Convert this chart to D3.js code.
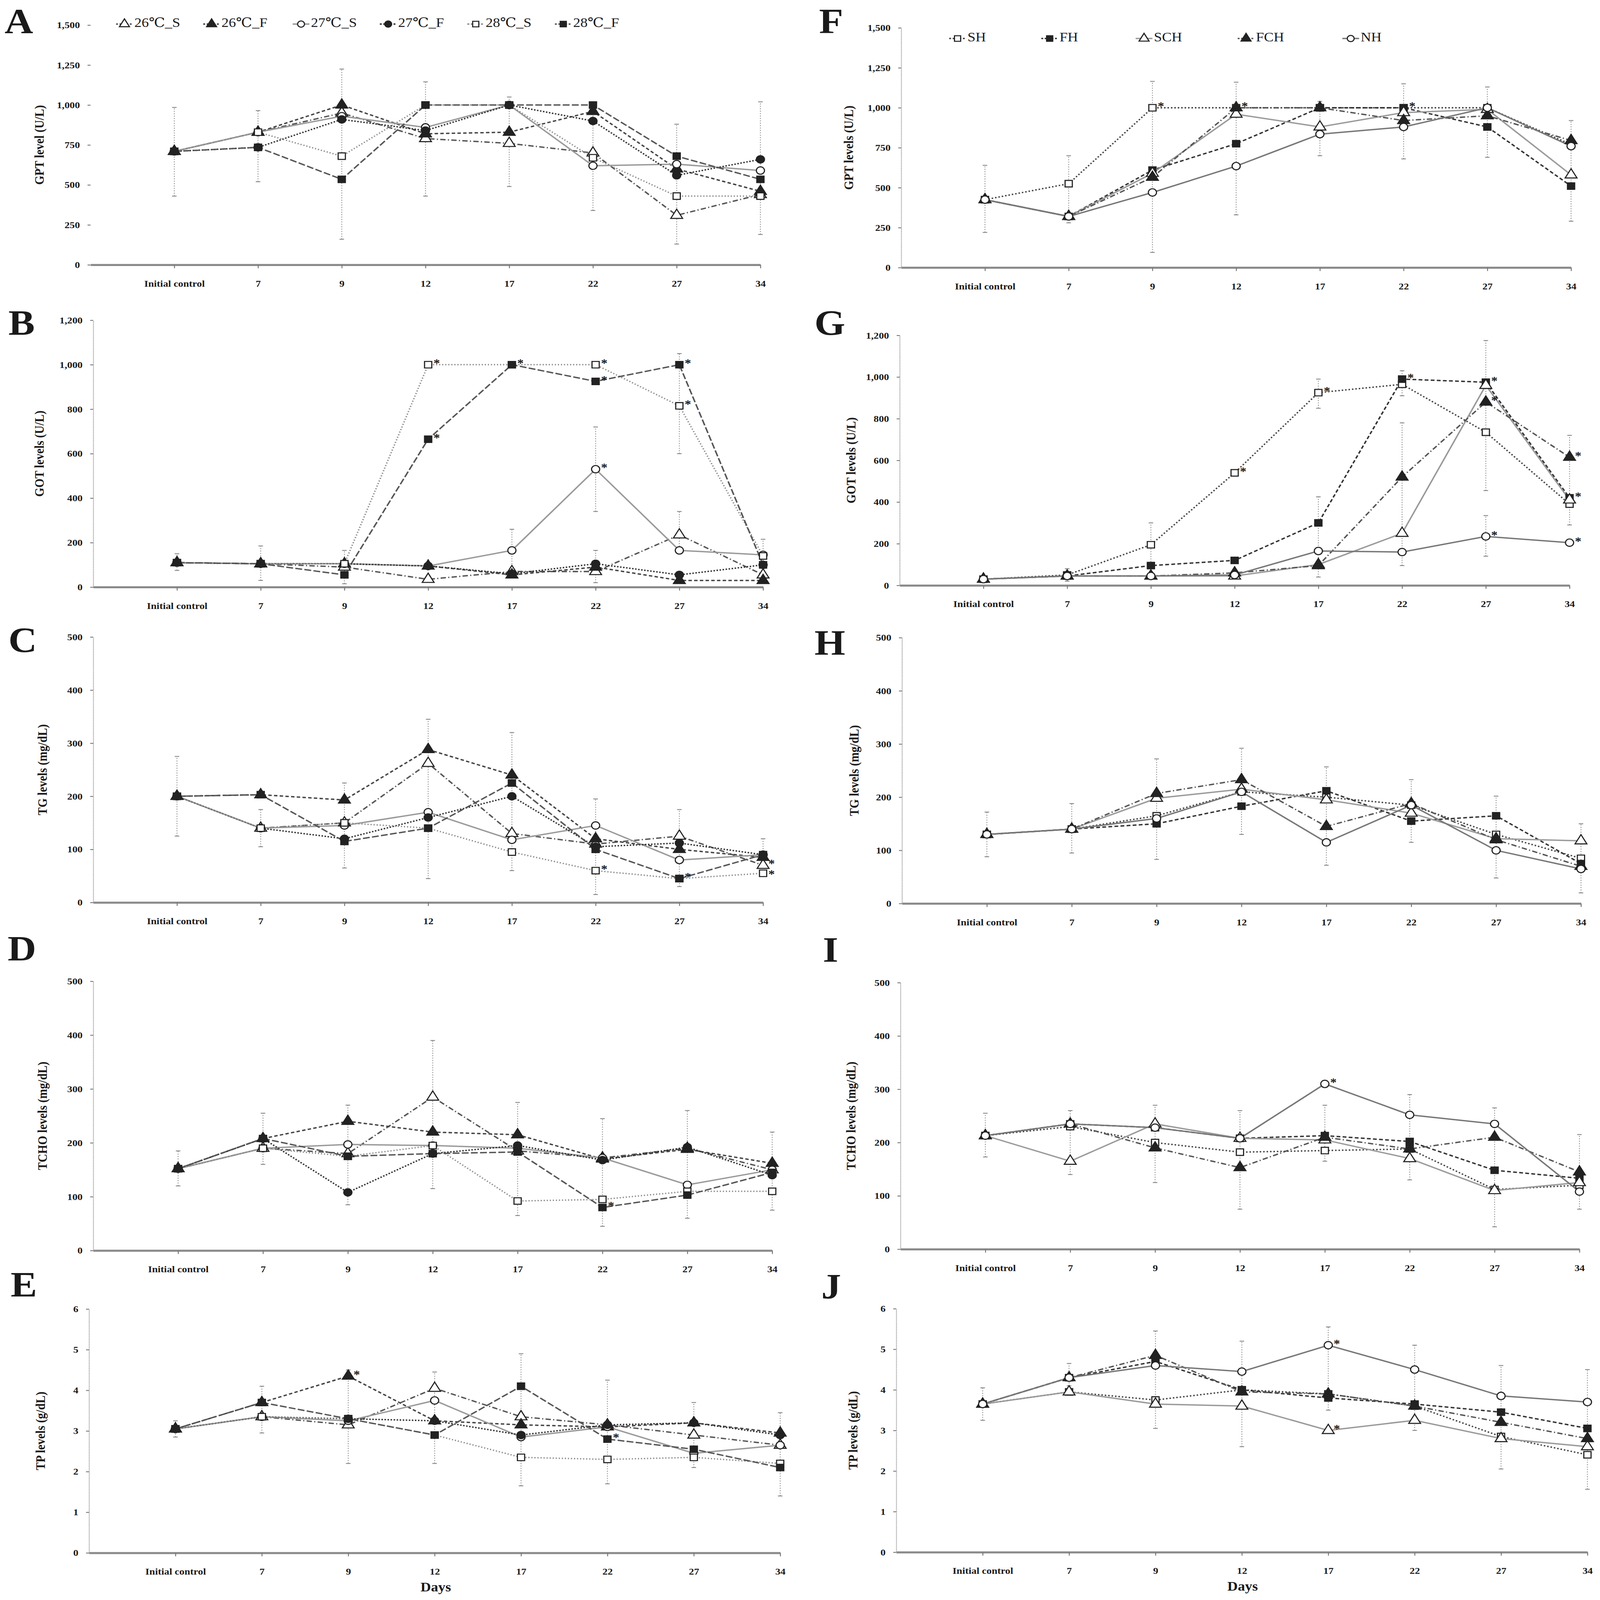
<!DOCTYPE html>
<html lang="en">
<head>
<meta charset="UTF-8">
<title>Serum biochemistry by day</title>
<script src="https://d3js.org/d3.v7.min.js"></script>
<style>
  html, body { margin: 0; padding: 0; background: #fff; overflow: hidden; }
  svg { display: block; width: 100vw; height: 100vh; }
  text { font-family: "Liberation Serif", "DejaVu Serif", serif; fill: #1a1a1a; }
  .tick text { font-size: 27px; font-weight: bold; }
  .ytitle { font-size: 34px; font-weight: bold; }
  .letter { font-size: 104px; font-weight: bold; }
  .legend text { font-size: 38px; }
  .star { font-size: 34px; font-weight: bold; }
  .days { font-size: 38px; font-weight: bold; }
</style>
</head>
<body>
<div id="chart"></div>
<script>
// ---- categories and series names ----
const days = ["Initial control", "7", "9", "12", "17", "22", "27", "34"];
const tempNames = ["26℃_S", "26℃_F", "27℃_S", "27℃_F", "28℃_S", "28℃_F"];
const dietNames = ["SH", "FH", "SCH", "FCH", "NH"];

// ---- left column (temperature groups), one row per series ----
const gptTemp = [
  [710, 830, 950, 790, 760, 700, 310, 440],
  [710, 830, 1000, 820, 830, 960, 600, 460],
  [710, 830, 930, 860, 1000, 620, 630, 590],
  [710, 735, 910, 840, 1000, 900, 560, 660],
  [710, 830, 680, 1000, 1000, 670, 430, 430],
  [710, 735, 535, 1000, 1000, 1000, 680, 535]
];
const gotTemp = [
  [110, 105, 90, 35, 70, 70, 235, 55],
  [110, 105, 105, 95, 55, 90, 30, 30],
  [110, 105, 105, 95, 165, 530, 165, 145],
  [110, 105, 105, 95, 60, 105, 55, 100],
  [110, 105, 105, 1000, 1000, 1000, 815, 140],
  [110, 105, 55, 665, 1000, 925, 1000, 100]
];
const tgTemp = [
  [200, 140, 150, 262, 130, 110, 125, 70],
  [200, 203, 193, 288, 240, 120, 100, 85],
  [200, 140, 145, 170, 118, 145, 80, 90],
  [200, 140, 120, 160, 200, 105, 112, 90],
  [200, 140, 150, 140, 95, 60, 45, 55],
  [200, 203, 115, 140, 225, 100, 45, 90]
];
const tchoTemp = [
  [152, 190, 180, 285, 185, 172, 190, 150],
  [152, 208, 240, 220, 215, 170, 188, 162],
  [152, 190, 197, 195, 190, 172, 122, 150],
  [152, 208, 108, 180, 195, 168, 192, 140],
  [152, 190, 175, 195, 92, 95, 110, 110],
  [152, 208, 175, 180, 183, 80, 103, 145]
];
const tpTemp = [
  [3.05, 3.35, 3.15, 4.05, 3.35, 3.15, 2.9, 2.65],
  [3.05, 3.7, 4.35, 3.25, 3.15, 3.1, 3.2, 2.95],
  [3.05, 3.35, 3.25, 3.75, 2.85, 3.1, 2.45, 2.65],
  [3.05, 3.35, 3.3, 3.25, 2.9, 3.15, 3.2, 2.9],
  [3.05, 3.35, 3.3, 2.9, 2.35, 2.3, 2.35, 2.2],
  [3.05, 3.7, 3.3, 2.9, 4.1, 2.8, 2.55, 2.1]
];

// ---- right column (diet groups) ----
const gptDiet = [
  [425, 525, 1000, 1000, 1000, 1000, 1000, 770],
  [425, 320, 610, 775, 1000, 1000, 880, 510],
  [425, 320, 590, 960, 880, 970, 990, 580],
  [425, 320, 565, 1000, 1000, 920, 950, 795],
  [425, 320, 470, 635, 835, 880, 1000, 760]
];
const gotDiet = [
  [30, 50, 195, 540, 925, 965, 735, 390],
  [30, 45, 95, 120, 300, 990, 975, 420],
  [30, 45, 45, 45, 100, 250, 960, 410],
  [30, 45, 45, 60, 95, 520, 880, 615],
  [30, 45, 45, 50, 165, 160, 235, 205]
];
const tgDiet = [
  [130, 140, 165, 210, 200, 185, 130, 85],
  [130, 140, 150, 183, 212, 155, 165, 75],
  [130, 140, 198, 215, 195, 170, 122, 118],
  [130, 140, 207, 233, 145, 188, 120, 70],
  [130, 140, 160, 210, 115, 185, 100, 65]
];
const tchoDiet = [
  [213, 230, 200, 182, 185, 188, 112, 120],
  [213, 235, 228, 208, 213, 202, 148, 133],
  [213, 165, 235, 208, 205, 170, 110, 125],
  [213, 235, 190, 153, 210, 188, 210, 145],
  [213, 235, 228, 208, 310, 252, 235, 108]
];
const tpDiet = [
  [3.65, 3.95, 3.75, 4.0, 3.9, 3.6, 2.85, 2.4],
  [3.65, 4.3, 4.7, 4.0, 3.8, 3.65, 3.45, 3.05],
  [3.65, 3.95, 3.65, 3.6, 3.0, 3.25, 2.8, 2.6],
  [3.65, 4.3, 4.85, 3.95, 3.9, 3.6, 3.2, 2.8],
  [3.65, 4.3, 4.6, 4.45, 5.1, 4.5, 3.85, 3.7]
];

// ---- error bars: [day index, low, high] ----
const gptTempErr = [[0, 430, 985], [1, 520, 965], [2, 160, 1225], [3, 430, 1145], [4, 490, 1050], [5, 340, 1000], [6, 130, 880], [7, 190, 1020]];
const gotTempErr = [[0, 75, 150], [1, 30, 185], [2, 15, 165], [4, 60, 260], [5, 340, 720], [5, 20, 165], [6, 600, 1050], [6, 150, 340], [7, 20, 215]];
const tgTempErr = [[0, 125, 275], [1, 105, 175], [2, 65, 225], [3, 45, 345], [4, 60, 320], [5, 15, 195], [6, 30, 175], [7, 55, 120]];
const tchoTempErr = [[0, 120, 185], [1, 160, 255], [2, 85, 270], [3, 115, 390], [4, 65, 275], [5, 45, 245], [6, 60, 260], [7, 75, 220]];
const tpTempErr = [[0, 2.85, 3.25], [1, 2.95, 4.1], [2, 2.2, 4.5], [3, 2.2, 4.45], [4, 1.65, 4.9], [5, 1.7, 4.25], [6, 2.1, 3.7], [7, 1.4, 3.45]];
const gptDietErr = [[0, 220, 640], [1, 280, 700], [2, 95, 1165], [3, 330, 1160], [4, 700, 1040], [5, 680, 1150], [6, 690, 1130], [7, 290, 920]];
const gotDietErr = [[1, 20, 80], [2, 90, 300], [4, 850, 990], [4, 40, 425], [5, 95, 780], [5, 910, 1030], [6, 455, 1175], [6, 140, 335], [7, 290, 720]];
const tgDietErr = [[0, 88, 172], [1, 95, 188], [2, 83, 272], [3, 130, 292], [4, 72, 257], [5, 115, 233], [6, 48, 202], [7, 20, 150]];
const tchoDietErr = [[0, 173, 255], [1, 140, 260], [2, 125, 270], [3, 75, 260], [4, 165, 270], [5, 130, 290], [6, 42, 265], [7, 75, 215]];
const tpDietErr = [[0, 3.25, 4.05], [1, 4.1, 4.65], [2, 3.05, 5.45], [3, 2.6, 5.2], [4, 3.5, 5.55], [5, 3.0, 5.1], [6, 2.05, 4.6], [7, 1.55, 4.5]];

// ---- significance stars: [series index, day index] ----
const gotTempStar = [[4, 3], [5, 3], [5, 4], [4, 5], [5, 5], [2, 5], [5, 6], [4, 6]];
const tgTempStar = [[4, 5], [4, 6], [4, 7], [0, 7]];
const tchoTempStar = [[5, 5]];
const tpTempStar = [[1, 2], [5, 5]];
const gptDietStar = [[0, 2], [3, 3], [0, 5]];
const gotDietStar = [[0, 3], [0, 4], [1, 5], [1, 6], [3, 6], [3, 7], [1, 7], [4, 6], [4, 7]];
const tchoDietStar = [[4, 4]];
const tpDietStar = [[4, 4], [2, 4]];

// marker / line styles
const tempStyles = [
  { shape: d3.symbolTriangle, fill: "#fff", dash: "14,6,3,6", color: "#555" },
  { shape: d3.symbolTriangle, fill: "#222", dash: "9,6", color: "#444" },
  { shape: d3.symbolCircle, fill: "#fff", dash: null, color: "#9a9a9a" },
  { shape: d3.symbolCircle, fill: "#222", dash: "4,4", color: "#333" },
  { shape: d3.symbolSquare, fill: "#fff", dash: "3,5", color: "#8a8a8a" },
  { shape: d3.symbolSquare, fill: "#222", dash: "18,6", color: "#555" }
];
const dietStyles = [
  { shape: d3.symbolSquare, fill: "#fff", dash: "4,5", color: "#444" },
  { shape: d3.symbolSquare, fill: "#222", dash: "10,6", color: "#333" },
  { shape: d3.symbolTriangle, fill: "#fff", dash: null, color: "#9a9a9a" },
  { shape: d3.symbolTriangle, fill: "#222", dash: "14,6,3,6", color: "#555" },
  { shape: d3.symbolCircle, fill: "#fff", dash: null, color: "#777" }
];

const commaFmt = d3.format(",");
const panels = [
  { letter: "A", lx: 12, ly: 97, data: gptTemp, err: gptTempErr, stars: [], styles: tempStyles,
    x0: 238, step: 220, yTop: 73, yBot: 770, max: 1500, tick: 250, title: "GPT level (U/L)", tx: 107, noYLine: true },
  { letter: "B", lx: 22, ly: 973, data: gotTemp, err: gotTempErr, stars: gotTempStar, styles: tempStyles,
    x0: 245, step: 220, yTop: 931, yBot: 1707, max: 1200, tick: 200, title: "GOT levels (U/L)", tx: 107 },
  { letter: "C", lx: 22, ly: 1895, data: tgTemp, err: tgTempErr, stars: tgTempStar, styles: tempStyles,
    x0: 245, step: 220, yTop: 1852, yBot: 2624, max: 500, tick: 100, title: "TG levels (mg/dL)", tx: 115 },
  { letter: "D", lx: 20, ly: 2793, data: tchoTemp, err: tchoTempErr, stars: tchoTempStar, styles: tempStyles,
    x0: 245, step: 223, yTop: 2853, yBot: 3636, max: 500, tick: 100, title: "TCHO levels (mg/dL)", tx: 115 },
  { letter: "E", lx: 28, ly: 3769, data: tpTemp, err: tpTempErr, stars: tpTempStar, styles: tempStyles,
    x0: 234, step: 227, yTop: 3806, yBot: 4515, max: 6, tick: 1, title: "TP levels (g/dL)", tx: 110, daysX: 1145 },
  { letter: "F", lx: 2152, ly: 97, data: gptDiet, err: gptDietErr, stars: gptDietStar, styles: dietStyles,
    x0: 2368, step: 220, yTop: 81, yBot: 778, max: 1500, tick: 250, title: "GPT levels (U/L)", tx: 2234 },
  { letter: "G", lx: 2140, ly: 973, data: gotDiet, err: gotDietErr, stars: gotDietStar, styles: dietStyles,
    x0: 2364, step: 220, yTop: 975, yBot: 1702, max: 1200, tick: 200, title: "GOT levels (U/L)", tx: 2240 },
  { letter: "H", lx: 2140, ly: 1904, data: tgDiet, err: tgDietErr, stars: [], styles: dietStyles,
    x0: 2370, step: 223, yTop: 1854, yBot: 2627, max: 500, tick: 100, title: "TG levels (mg/dL)", tx: 2248 },
  { letter: "I", lx: 2162, ly: 2796, data: tchoDiet, err: tchoDietErr, stars: tchoDietStar, styles: dietStyles,
    x0: 2366, step: 223, yTop: 2857, yBot: 3632, max: 500, tick: 100, title: "TCHO levels (mg/dL)", tx: 2240 },
  { letter: "J", lx: 2158, ly: 3775, data: tpDiet, err: tpDietErr, stars: tpDietStar, styles: dietStyles,
    x0: 2355, step: 227, yTop: 3805, yBot: 4513, max: 6, tick: 1, title: "TP levels (g/dL)", tx: 2245, daysX: 3265 }
];

const W = 4204, H = 4652;
// stretch the drawing to the window so the full figure is always in view
const svg = d3.select("#chart").append("svg")
  .attr("viewBox", `0 0 ${W} ${H}`)
  .attr("preserveAspectRatio", "none");

function marker(sel, style, size) {
  sel.append("path")
    .attr("d", d3.symbol().type(style.shape).size(size))
    .attr("fill", style.fill)
    .attr("stroke", "#222")
    .attr("stroke-width", 3);
}

function drawPanel(p) {
  const g = svg.append("g");
  const x = d3.scaleLinear().domain([0, 8]).range([p.x0, p.x0 + 8 * p.step]);
  const y = d3.scaleLinear().domain([0, p.max]).range([p.yBot, p.yTop]);

  g.append("text").attr("class", "letter").attr("x", p.lx).attr("y", p.ly).text(p.letter);

  // y axis
  const ya = g.append("g").attr("transform", `translate(${p.x0},0)`)
    .call(d3.axisLeft(y).tickValues(d3.range(0, p.max + 1e-9, p.tick))
      .tickFormat(p.max > 100 ? commaFmt : d3.format("d"))
      .tickSize(8).tickSizeOuter(0).tickPadding(20));
  ya.select(".domain").attr("stroke", p.noYLine ? "none" : "#888").attr("stroke-width", 2.5)
    .attr("stroke-dasharray", "2,2");
  ya.selectAll(".tick line").attr("stroke", "#777").attr("stroke-width", 2.5);

  // x axis
  const xa = g.append("g").attr("transform", `translate(0,${p.yBot})`)
    .call(d3.axisBottom(x).tickValues(d3.range(1, 9)).tickFormat(i => days[i - 1])
      .tickSize(10).tickSizeOuter(0).tickPadding(34));
  xa.select(".domain").attr("stroke", "#8a8a8a").attr("stroke-width", 6);
  xa.selectAll(".tick line").attr("stroke", "#777").attr("stroke-width", 2.5);

  g.append("text").attr("class", "ytitle")
    .attr("transform", `translate(${p.tx},${(p.yTop + p.yBot) / 2}) rotate(-90)`)
    .attr("text-anchor", "middle").attr("dominant-baseline", "middle").text(p.title);

  if (p.daysX) {
    g.append("text").attr("class", "days").attr("x", p.daysX).attr("y", p.yBot + 112)
      .attr("text-anchor", "middle").text("Days");
  }

  // error bars
  p.err.forEach(e => {
    const cx = x(e[0] + 1);
    g.append("line").attr("x1", cx).attr("x2", cx).attr("y1", y(e[1])).attr("y2", y(e[2]))
      .attr("stroke", "#9a9a9a").attr("stroke-width", 2.5).attr("stroke-dasharray", "3,4");
    [e[1], e[2]].forEach(v => g.append("line").attr("x1", cx - 6).attr("x2", cx + 6)
      .attr("y1", y(v)).attr("y2", y(v)).attr("stroke", "#888").attr("stroke-width", 2.5));
  });

  const line = d3.line().x((d, i) => x(i + 1)).y(d => y(d));
  p.data.forEach((vals, s) => {
    const st = p.styles[s];
    g.append("path").datum(vals).attr("d", line).attr("fill", "none")
      .attr("stroke", st.color).attr("stroke-width", 4)
      .attr("stroke-dasharray", st.dash);
  });
  p.data.forEach((vals, s) => {
    const st = p.styles[s];
    vals.forEach((v, i) => {
      const m = g.append("g").attr("transform", `translate(${x(i + 1)},${y(v)})`);
      marker(m, st, st.shape === d3.symbolTriangle ? 420 : 360);
    });
  });

  // stars: keep stars at the same day from sitting on top of each other
  const placed = p.stars.map(([s, i]) => ({ i, sy: y(p.data[s][i]) + 6 }))
    .sort((a, b) => a.i - b.i || a.sy - b.sy);
  placed.forEach((st, k) => {
    const prev = placed[k - 1];
    if (prev && prev.i === st.i && st.sy - prev.sy < 30) st.sy = prev.sy + 30;
    g.append("text").attr("class", "star").attr("x", x(st.i + 1) + 14).attr("y", st.sy).text("*");
  });
}

panels.forEach(drawPanel);

// legends
function legend(names, styles, xs, yPos) {
  const lg = svg.append("g").attr("class", "legend");
  names.forEach((n, i) => {
    const gi = lg.append("g").attr("transform", `translate(${xs[i]},${yPos})`);
    gi.append("line").attr("x1", -22).attr("x2", 22).attr("stroke", styles[i].color)
      .attr("stroke-width", 4).attr("stroke-dasharray", styles[i].dash ? "5,4" : null);
    marker(gi, styles[i], styles[i].shape === d3.symbolTriangle ? 300 : 260);
    gi.append("text").attr("x", 26).attr("dominant-baseline", "middle").text(n);
  });
}
legend(tempNames, tempStyles, [327, 556, 791, 1020, 1250, 1480], 70);
legend(dietNames, dietStyles, [2516, 2758, 3006, 3274, 3549], 112);
</script>
</body>
</html>
